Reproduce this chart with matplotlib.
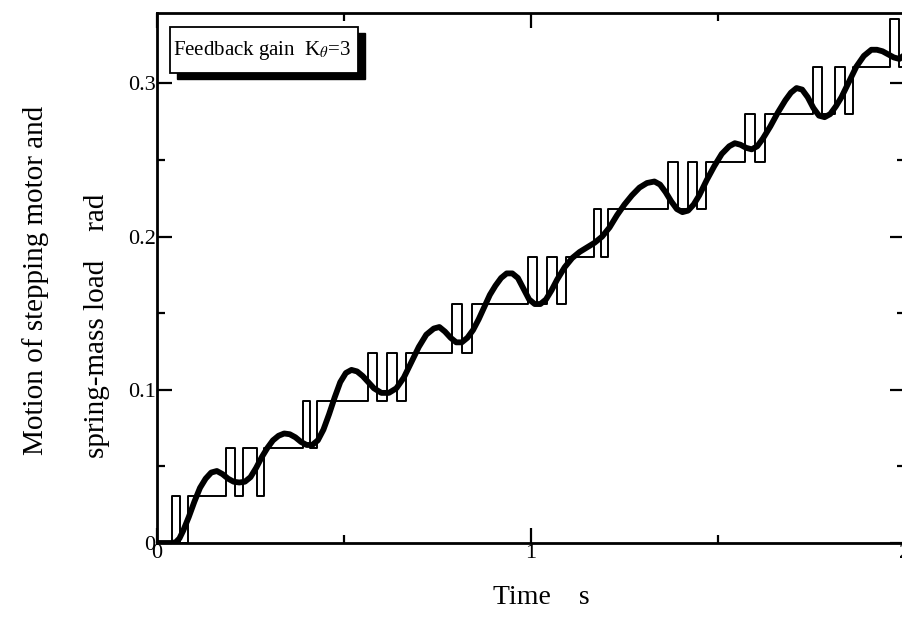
import matplotlib
matplotlib.use("Agg")
import matplotlib.pyplot as plt
from matplotlib.patches import Rectangle
from matplotlib.ticker import FixedLocator

plt.rcParams['font.family'] = ['Liberation Serif', 'DejaVu Serif']
plt.rcParams['mathtext.fontset'] = 'stix'

# stepping motor angle (switch times, level after each switch)
motor_t = [0.0, 0.040, 0.061, 0.083,
           0.184, 0.209, 0.230, 0.267, 0.286,
           0.390, 0.409, 0.428,
           0.564, 0.588, 0.615, 0.642, 0.666,
           0.789, 0.816, 0.842,
           0.992, 1.016, 1.043, 1.070, 1.094,
           1.168, 1.187, 1.206,
           1.366, 1.393, 1.420, 1.444, 1.468,
           1.572, 1.599, 1.626,
           1.754, 1.778, 1.813, 1.840, 1.861,
           1.960, 1.984, 2.0]
motor_theta = [0.0, 0.031, 0.0, 0.031,
               0.062, 0.031, 0.062, 0.031, 0.062,
               0.093, 0.062, 0.093,
               0.124, 0.093, 0.124, 0.093, 0.124,
               0.156, 0.124, 0.156,
               0.187, 0.156, 0.187, 0.156, 0.187,
               0.218, 0.187, 0.218,
               0.249, 0.218, 0.249, 0.218, 0.249,
               0.280, 0.249, 0.280,
               0.311, 0.280, 0.311, 0.280, 0.311,
               0.342, 0.311, 0.311]

# spring-mass load angle
load_t = [0.000, 0.040, 0.050, 0.060, 0.070, 0.085, 0.100, 0.115, 0.130, 0.145,
          0.160, 0.175, 0.190, 0.205, 0.220, 0.235, 0.250, 0.265, 0.280, 0.295,
          0.310, 0.325, 0.340, 0.355, 0.370, 0.385, 0.400, 0.415, 0.430, 0.445,
          0.460, 0.475, 0.490, 0.505, 0.520, 0.535, 0.550, 0.565, 0.580, 0.600,
          0.620, 0.640, 0.660, 0.680, 0.700, 0.720, 0.740, 0.755, 0.770, 0.785,
          0.800, 0.815, 0.830, 0.845, 0.860, 0.875, 0.890, 0.905, 0.920, 0.935,
          0.950, 0.965, 0.980, 0.995, 1.010, 1.025, 1.040, 1.055, 1.070, 1.090,
          1.110, 1.130, 1.150, 1.170, 1.190, 1.210, 1.230, 1.250, 1.270, 1.290,
          1.310, 1.330, 1.345, 1.360, 1.375, 1.390, 1.405, 1.420, 1.435, 1.450,
          1.470, 1.490, 1.510, 1.530, 1.545, 1.560, 1.575, 1.590, 1.605, 1.620,
          1.640, 1.660, 1.680, 1.695, 1.710, 1.725, 1.740, 1.755, 1.770, 1.785,
          1.800, 1.815, 1.830, 1.850, 1.870, 1.890, 1.910, 1.925, 1.940, 1.955,
          1.970, 1.985, 2.000]
load_theta = [0.0, 0.0, 0.0005, 0.003, 0.008, 0.017, 0.027, 0.036, 0.042, 0.046,
              0.047, 0.045, 0.042, 0.040, 0.0395, 0.040, 0.043, 0.049, 0.056, 0.062,
              0.067, 0.070, 0.0715, 0.071, 0.069, 0.066, 0.064, 0.064, 0.067, 0.074,
              0.084, 0.095, 0.105, 0.111, 0.113, 0.112, 0.109, 0.105, 0.101, 0.098,
              0.098, 0.101, 0.108, 0.118, 0.128, 0.136, 0.140, 0.141, 0.138, 0.134,
              0.131, 0.131, 0.134, 0.139, 0.146, 0.154, 0.162, 0.168, 0.173, 0.176,
              0.176, 0.173, 0.166, 0.159, 0.156, 0.156, 0.159, 0.165, 0.172, 0.180,
              0.186, 0.190, 0.193, 0.196, 0.200, 0.206, 0.214, 0.221, 0.227, 0.232,
              0.235, 0.236, 0.234, 0.229, 0.223, 0.218, 0.216, 0.217, 0.221, 0.227,
              0.237, 0.246, 0.254, 0.259, 0.261, 0.260, 0.258, 0.257, 0.259, 0.264,
              0.272, 0.281, 0.289, 0.294, 0.297, 0.296, 0.291, 0.284, 0.279, 0.278,
              0.280, 0.285, 0.291, 0.301, 0.311, 0.318, 0.322, 0.322, 0.321, 0.319,
              0.317, 0.316, 0.319]

x_major = [0, 1, 2]
x_minor = [0.5, 1.5]
y_major = [0, 0.1, 0.2, 0.3]
y_minor = [0.05, 0.15, 0.25]
y_labels = ['0', '0.1', '0.2', '0.3']

fig = plt.figure(figsize=(9.02, 6.27), dpi=100)
ax = fig.add_axes([157 / 902, 1 - 543 / 627, 748 / 902, 530 / 627])

ax.step(motor_t, motor_theta, where='post', color='black', lw=1.4)
ax.plot(load_t, load_theta, color='black', lw=4.2, solid_joinstyle='round',
        solid_capstyle='round')

ax.set_xlim(0, 2)
ax.set_ylim(0, 0.346)

ax.xaxis.set_major_locator(FixedLocator(x_major))
ax.xaxis.set_minor_locator(FixedLocator(x_minor))
ax.yaxis.set_major_locator(FixedLocator(y_major))
ax.yaxis.set_minor_locator(FixedLocator(y_minor))
ax.set_xticklabels([str(v) for v in x_major])
ax.set_yticklabels(y_labels)

ax.tick_params(which='both', direction='in', top=True, right=True, width=1.6,
               labelsize=16)
ax.tick_params(which='major', length=11)
ax.tick_params(which='minor', length=5.5)
ax.tick_params(axis='y', pad=1)
ax.tick_params(axis='x', pad=1)
for s in ax.spines.values():
    s.set_linewidth(2)

fig.text(541 / 902, 1 - 598 / 627, 'Time    s', fontsize=20, ha='center', va='center')
fig.text(36 / 902, 1 - 280 / 627, 'Motion of stepping motor and', fontsize=21,
         rotation=90, ha='center', va='center')
fig.text(97 / 902, 1 - 326 / 627, 'spring-mass load    rad', fontsize=21,
         rotation=90, ha='center', va='center')

# gain label box with drop shadow
bx0, by0, bw, bh = 170 / 902, 1 - 73 / 627, 188 / 902, 46 / 627
fig.patches.append(Rectangle((bx0 + 7 / 902, by0 - 6 / 627), bw, bh,
                             transform=fig.transFigure, facecolor='black',
                             edgecolor='black', zorder=5))
fig.patches.append(Rectangle((bx0, by0), bw, bh, transform=fig.transFigure,
                             facecolor='white', edgecolor='black', lw=1.3,
                             zorder=6))
fig.text(bx0 + 3 / 902, by0 + bh / 2, r'Feedback gain  K$_{\theta}$=3',
         fontsize=15, ha='left', va='center', zorder=7)

fig.savefig('out.png', dpi=100)
